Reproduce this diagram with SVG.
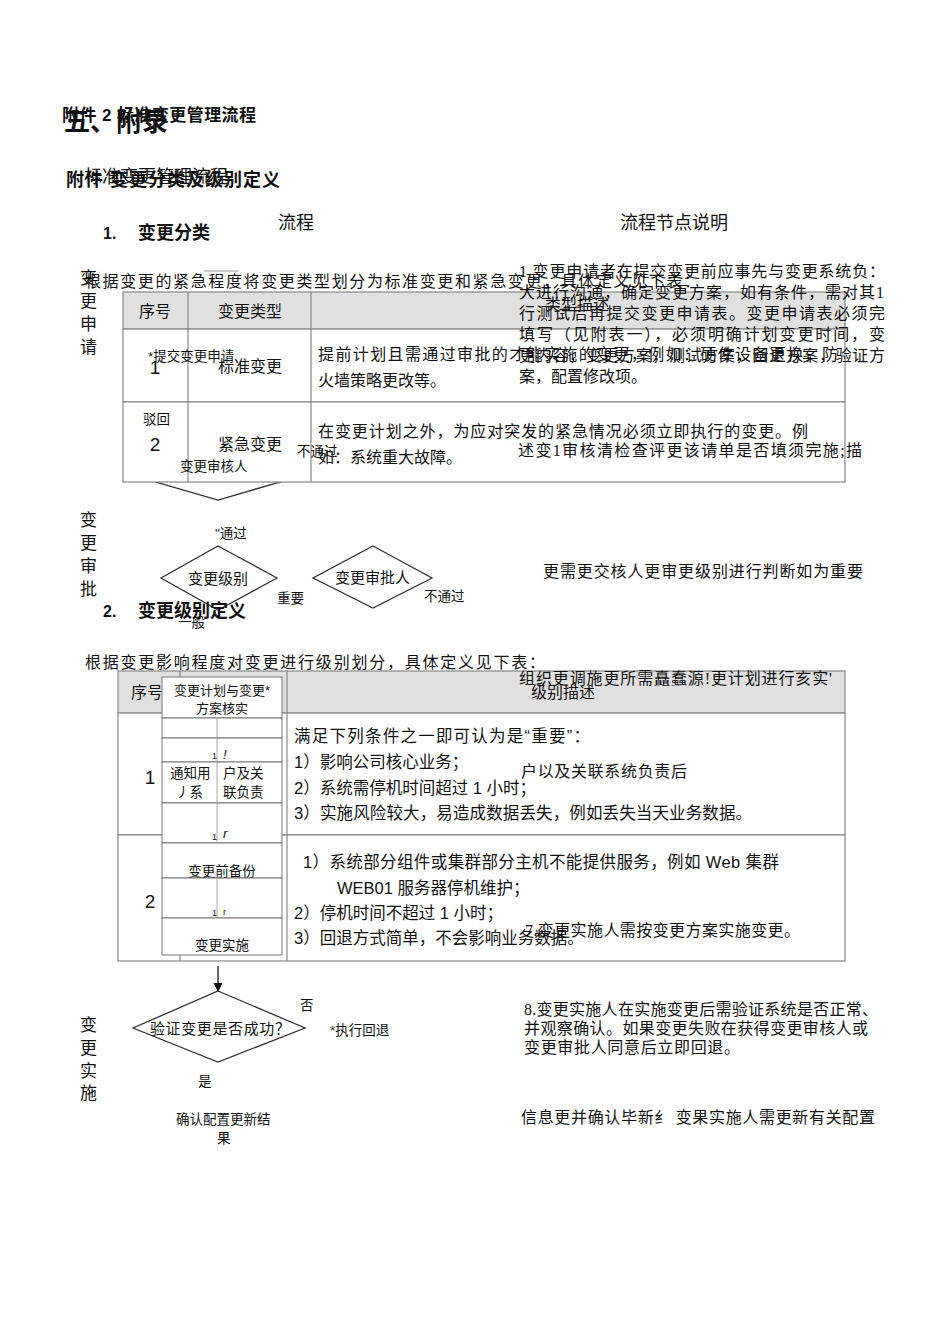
<svg xmlns="http://www.w3.org/2000/svg" width="950" height="1344" viewBox="0 0 950 1344">
<style>
.s{font-family:"Liberation Sans","Noto Sans CJK SC",sans-serif;fill:#111}
.r{font-family:"Liberation Serif","Noto Sans CJK SC",serif;fill:#111;font-size:16px}
.b{font-weight:bold}
.t16{font-size:16px}
.t165{font-size:16.5px}
.t18{font-size:18px}
.t12{font-size:13.5px}
.cell{fill:#fff;stroke:#888;stroke-width:1.2}
.hdr{fill:#e0e0e0;stroke:#888;stroke-width:1.2}
.ln{stroke:#888;stroke-width:1.2;fill:none}
.dia{fill:none;stroke:#333;stroke-width:1.3}
.box{fill:#fff;stroke:#777;stroke-width:1}
</style>
<defs>
<marker id="ah" viewBox="0 0 10 10" refX="9" refY="5" markerWidth="7" markerHeight="7" orient="auto"><path d="M0,0L10,5L0,10z" fill="#111"/></marker>
</defs>
<rect width="950" height="1344" fill="#fff"/>

<!-- titles -->
<g id="titles">
<text x="62" y="121" class="s b" font-size="17" textLength="194" lengthAdjust="spacing">附件 2 标准变更管理流程</text>
<text x="64" y="131" class="s b" font-size="26">五、附录</text>
<text x="66" y="186" class="s b t18" textLength="214" lengthAdjust="spacing">附件 变更分类及级别定义</text>
<text x="84" y="183" class="s t18" fill="#333">标准变更管理流程</text>
<text x="103" y="239" class="s b t16">1.</text>
<text x="138" y="239" class="s b t18">变更分类</text>
<text x="278" y="229" class="s" font-size="18">流程</text>
<text x="620" y="229" class="s" font-size="18">流程节点说明</text>
<text x="85" y="287" class="s t16" textLength="615" lengthAdjust="spacing">根据变更的紧急程度将变更类型划分为标准变更和紧急变更，具体定义见下表：</text>
<line x1="204" y1="271" x2="238" y2="271" stroke="#999" stroke-width="1"/>
</g>

<!-- hidden diamond under table 1 -->
<g id="node-review">
<polygon points="218,452 280,482 218,500 156,482" class="dia"/>
</g>

<!-- table 1 -->
<g id="table1">
<rect x="123" y="292" width="722" height="37" class="hdr"/>
<rect x="123" y="329" width="722" height="73" class="cell"/>
<rect x="123" y="402" width="722" height="80" class="cell"/>
<line x1="188" y1="292" x2="188" y2="482" class="ln"/>
<line x1="311" y1="292" x2="311" y2="482" class="ln"/>
<text x="155" y="317" class="s t16" text-anchor="middle">序号</text>
<text x="250" y="317" class="s t16" text-anchor="middle">变更类型</text>
<text x="545" y="310" class="s t16">类型描述</text>
<text x="155" y="374" class="s" font-size="19" text-anchor="middle">1</text>
<text x="250" y="372" class="s t16" text-anchor="middle">标准变更</text>
<text x="318" y="360" class="s t16" textLength="520" lengthAdjust="spacing">提前计划且需通过审批的才能实施的变更，例如：硬件设备更换，防</text>
<text x="318" y="386" class="s t16">火墙策略更改等。</text>
<text x="155" y="451" class="s" font-size="19" text-anchor="middle">2</text>
<text x="250" y="450" class="s t16" text-anchor="middle">紧急变更</text>
<text x="318" y="437" class="s t16" textLength="490" lengthAdjust="spacing">在变更计划之外，为应对突发的紧急情况必须立即执行的变更。例</text>
<text x="318" y="463" class="s t16">如：系统重大故障。</text>
</g>

<!-- flow labels section 1 -->
<g id="lane-apply">
<text class="s" font-size="17"><tspan x="80" y="284">变</tspan><tspan x="80" y="307">更</tspan><tspan x="80" y="330">申</tspan><tspan x="80" y="353">请</tspan></text>
</g>
<g id="node-submit">
<text x="148" y="361" class="s t12">*提交变更申请</text>
</g>
<g id="labels-top">
<text x="143" y="424" class="s t12">驳回</text>
<text x="180" y="471" class="s t12">变更审核人</text>
<text x="297" y="456" class="s t12">不通过</text>
<text x="215" y="538" class="s t12">"通过</text>
</g>

<g id="desc-1">
<text x="519" y="277" class="r" textLength="366" lengthAdjust="spacing">1.变更申请者在提交变更前应事先与变更系统负：</text>
<text x="519" y="298" class="r" textLength="365" lengthAdjust="spacing">大进行沟通，确定变更方案，如有条件，需对其1</text>
<text x="519" y="319" class="r" textLength="366" lengthAdjust="spacing">行测试后再提交变更申请表。变更申请表必须完</text>
<text x="519" y="340" class="r" textLength="366" lengthAdjust="spacing">填写（见附表一），必须明确计划变更时间，变</text>
<text x="519" y="361" class="r" textLength="366" lengthAdjust="spacing">更内容，变更方案，测试方案，回退方案，验证方</text>
<text x="519" y="382" class="r">案，配置修改项。</text>
<text x="518" y="456" class="r" textLength="344" lengthAdjust="spacing">述变1审核清检查评更该请单是否填须完施;描</text>
</g>

<!-- approval lane -->
<g id="lane-approve">
<text class="s" font-size="17"><tspan x="80" y="526">变</tspan><tspan x="80" y="549">更</tspan><tspan x="80" y="572">审</tspan><tspan x="80" y="595">批</tspan></text>
</g>
<g id="node-level">
<polygon points="218,546 277,578 218,610 161,578" class="dia"/>
<text x="188" y="584" class="s" font-size="15">变更级别</text>
</g>
<g id="node-approver">
<polygon points="373,546 432,578 373,608 313,578" class="dia"/>
<text x="335" y="583" class="s" font-size="15">变更审批人</text>
</g>
<g id="labels-mid">
<text x="277" y="603" class="s t12">重要</text>
<text x="424" y="601" class="s t12">不通过</text>
<text x="178" y="627" class="s t12">一般</text>
</g>
<text x="543" y="577" class="r" textLength="320" lengthAdjust="spacing">更需更交核人更审更级别进行判断如为重要</text>

<g id="heading2">
<text x="103" y="617" class="s b t16">2.</text>
<text x="138" y="617" class="s b t18">变更级别定义</text>
<text x="85" y="668" class="s t16" textLength="460" lengthAdjust="spacing">根据变更影响程度对变更进行级别划分，具体定义见下表：</text>
</g>

<!-- table 2 -->
<g id="table2">
<rect x="118" y="671" width="727" height="42" class="hdr"/>
<rect x="118" y="713" width="727" height="122" class="cell"/>
<rect x="118" y="835" width="727" height="126" class="cell"/>
<line x1="180" y1="671" x2="180" y2="961" class="ln"/>
<line x1="287" y1="671" x2="287" y2="961" class="ln"/>
<text x="131" y="698" class="s t16">序号</text>
<text x="531" y="698" class="s t16">级别描述</text>
<text x="150" y="784" class="s" font-size="19" text-anchor="middle">1</text>
<text x="294" y="742" class="s t165" textLength="296" lengthAdjust="spacing">满足下列条件之一即可认为是“重要”：</text>
<text x="294" y="768" class="s t165">1）影响公司核心业务；</text>
<text x="294" y="794" class="s t165">2）系统需停机时间超过 1 小时；</text>
<text x="294" y="819" class="s t165" textLength="458" lengthAdjust="spacing">3）实施风险较大，易造成数据丢失，例如丢失当天业务数据。</text>
<text x="150" y="908" class="s" font-size="19" text-anchor="middle">2</text>
<text x="303" y="868" class="s t165" textLength="476" lengthAdjust="spacing">1）系统部分组件或集群部分主机不能提供服务，例如 Web 集群</text>
<text x="337" y="894" class="s t165">WEB01 服务器停机维护；</text>
<text x="294" y="919" class="s t165">2）停机时间不超过 1 小时；</text>
<text x="294" y="944" class="s t165">3）回退方式简单，不会影响业务数据。</text>
</g>

<!-- flow boxes stack -->
<g id="node-plan">
<rect x="162" y="677" width="120" height="41" class="box"/>
<text x="222" y="695" class="s" font-size="13" text-anchor="middle">变更计划与变更*</text>
<text x="222" y="713" class="s" font-size="13" text-anchor="middle">方案核实</text>
</g>
<g id="node-notify">
<rect x="162" y="718" width="120" height="20" class="box"/>
<rect x="162" y="738" width="120" height="24" class="box"/>
<rect x="162" y="762" width="120" height="41" class="box"/>
<rect x="162" y="803" width="120" height="40" class="box"/>
<line x1="217" y1="718" x2="217" y2="843" stroke="#aaa" stroke-width="1"/>
<text x="212" y="759" class="s" font-size="9">1</text>
<text x="223" y="759" class="s t12" font-style="italic">!</text>
<text x="170" y="778" class="s t12">通知用</text>
<text x="176" y="797" class="s t12">丿系</text>
<text x="223" y="778" class="s t12">户及关</text>
<text x="223" y="797" class="s t12">联负责</text>
<text x="212" y="840" class="s" font-size="9">1</text>
<text x="223" y="838" class="s t12" font-style="italic">r</text>
</g>
<g id="node-backup">
<rect x="162" y="843" width="120" height="35" class="box"/>
<text x="222" y="876" class="s t12" text-anchor="middle">变更前备份</text>
</g>
<g id="node-impl">
<rect x="162" y="878" width="120" height="40" class="box"/>
<line x1="217" y1="878" x2="217" y2="918" stroke="#aaa" stroke-width="1"/>
<text x="212" y="916" class="s" font-size="9">1</text>
<text x="223" y="915" class="s" font-size="9">r</text>
<rect x="162" y="918" width="120" height="37" class="box"/>
<text x="222" y="950" class="s t12" text-anchor="middle">变更实施</text>
</g>

<g id="desc-2">
<text x="519" y="684" class="r" font-size="15" textLength="313" lengthAdjust="spacing">组织更调施更所需矗蠢源!更计划进行亥实'</text>
<text x="521" y="777" class="r" textLength="166" lengthAdjust="spacing">户以及关联系统负责后</text>
<text x="525" y="936" class="r" textLength="275" lengthAdjust="spacing">7.变更实施人需按变更方案实施变更。</text>
</g>

<!-- connectors -->
<g id="connectors">
<line x1="218" y1="966" x2="218" y2="991" stroke="#111" stroke-width="1.3" marker-end="url(#ah)"/>
</g>

<!-- implementation lane -->
<g id="lane-impl">
<text class="s" font-size="17"><tspan x="80" y="1031">变</tspan><tspan x="80" y="1054">更</tspan><tspan x="80" y="1077">实</tspan><tspan x="80" y="1099">施</tspan></text>
</g>
<g id="node-verify">
<polygon points="218,991 305,1028 218,1062 133,1028" class="dia"/>
<text x="150" y="1034" class="s" font-size="15" textLength="140" lengthAdjust="spacing">验证变更是否成功？</text>
</g>
<g id="node-rollback">
<text x="330" y="1035" class="s t12">*执行回退</text>
</g>
<g id="labels-bottom">
<text x="300" y="1010" class="s t12">否</text>
<text x="198" y="1086" class="s t12">是</text>
</g>
<g id="node-confirm">
<text x="176" y="1124" class="s t12">确认配置更新结</text>
<text x="217" y="1143" class="s t12">果</text>
</g>
<g id="desc-3">
<text x="524" y="1015" class="r" textLength="354" lengthAdjust="spacing">8.变更实施人在实施变更后需验证系统是否正常、</text>
<text x="524" y="1034" class="r" textLength="344" lengthAdjust="spacing">并观察确认。如果变更失败在获得变更审核人或</text>
<text x="524" y="1053" class="r" textLength="216" lengthAdjust="spacing">变更审批人同意后立即回退。</text>
<text x="521" y="1123" class="r" textLength="354" lengthAdjust="spacing">信息更并确认毕新纟 变果实施人需更新有关配置</text>
</g>
</svg>
